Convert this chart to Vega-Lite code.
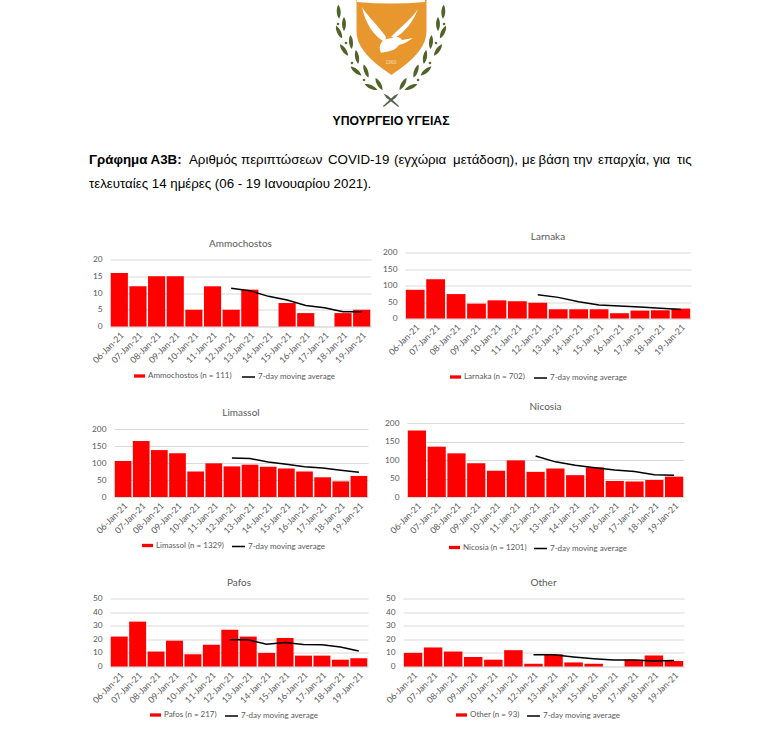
{"$schema":"https://vega.github.io/schema/vega-lite/v6.json","background":"white","padding":0,"spacing":5,"bounds":"full","align":"none","resolve":{"scale":{"fill":"independent","stroke":"independent"},"legend":{"fill":"independent","stroke":"independent"}},"config":{"view":{"stroke":null},"font":"Lato","axisX":{"labelAngle":-45,"labelFont":"Lato","labelFontSize":8.8,"labelColor":"#595959","title":null,"ticks":false,"domainColor":"#d9d9d9","grid":false,"labelPadding":4,"labelOverlap":false},"axisY":{"labelFont":"Lato","labelFontSize":8.3,"labelColor":"#595959","title":null,"ticks":false,"domain":false,"grid":true,"gridColor":"#d9d9d9","labelPadding":8},"title":{"font":"Lato","fontSize":10,"fontWeight":"normal","color":"#595959","offset":6,"anchor":"middle"},"legend":{"labelFont":"Lato","labelFontSize":8,"labelColor":"#595959","title":null,"orient":"none","direction":"horizontal","labelOffset":2,"padding":0}},"datasets":{"d":[
{"p":"A","date":"06-Jan-21","c":16},{"p":"A","date":"07-Jan-21","c":12},{"p":"A","date":"08-Jan-21","c":15},{"p":"A","date":"09-Jan-21","c":15},{"p":"A","date":"10-Jan-21","c":5},{"p":"A","date":"11-Jan-21","c":12},{"p":"A","date":"12-Jan-21","c":5,"ma":11.4},{"p":"A","date":"13-Jan-21","c":11,"ma":10.7},{"p":"A","date":"14-Jan-21","c":0,"ma":9.0},{"p":"A","date":"15-Jan-21","c":7,"ma":7.9},{"p":"A","date":"16-Jan-21","c":4,"ma":6.3},{"p":"A","date":"17-Jan-21","c":0,"ma":5.6},{"p":"A","date":"18-Jan-21","c":4,"ma":4.4},{"p":"A","date":"19-Jan-21","c":5,"ma":4.4},
{"p":"L","date":"06-Jan-21","c":87},{"p":"L","date":"07-Jan-21","c":119},{"p":"L","date":"08-Jan-21","c":74},{"p":"L","date":"09-Jan-21","c":45},{"p":"L","date":"10-Jan-21","c":55},{"p":"L","date":"11-Jan-21","c":52},{"p":"L","date":"12-Jan-21","c":48,"ma":72},{"p":"L","date":"13-Jan-21","c":28,"ma":64},{"p":"L","date":"14-Jan-21","c":28,"ma":51},{"p":"L","date":"15-Jan-21","c":28,"ma":41},{"p":"L","date":"16-Jan-21","c":16,"ma":38},{"p":"L","date":"17-Jan-21","c":24,"ma":35},{"p":"L","date":"18-Jan-21","c":25,"ma":31},{"p":"L","date":"19-Jan-21","c":30,"ma":27},
{"p":"M","date":"06-Jan-21","c":106},{"p":"M","date":"07-Jan-21","c":165},{"p":"M","date":"08-Jan-21","c":138},{"p":"M","date":"09-Jan-21","c":129},{"p":"M","date":"10-Jan-21","c":75},{"p":"M","date":"11-Jan-21","c":99},{"p":"M","date":"12-Jan-21","c":90,"ma":115},{"p":"M","date":"13-Jan-21","c":95,"ma":113},{"p":"M","date":"14-Jan-21","c":89,"ma":103},{"p":"M","date":"15-Jan-21","c":84,"ma":96},{"p":"M","date":"16-Jan-21","c":75,"ma":89},{"p":"M","date":"17-Jan-21","c":58,"ma":85},{"p":"M","date":"18-Jan-21","c":46,"ma":79},{"p":"M","date":"19-Jan-21","c":62,"ma":73},
{"p":"N","date":"06-Jan-21","c":180},{"p":"N","date":"07-Jan-21","c":136},{"p":"N","date":"08-Jan-21","c":118},{"p":"N","date":"09-Jan-21","c":91},{"p":"N","date":"10-Jan-21","c":71},{"p":"N","date":"11-Jan-21","c":99},{"p":"N","date":"12-Jan-21","c":68,"ma":111},{"p":"N","date":"13-Jan-21","c":77,"ma":95},{"p":"N","date":"14-Jan-21","c":59,"ma":86},{"p":"N","date":"15-Jan-21","c":80,"ma":79},{"p":"N","date":"16-Jan-21","c":43,"ma":73},{"p":"N","date":"17-Jan-21","c":42,"ma":69},{"p":"N","date":"18-Jan-21","c":46,"ma":60},{"p":"N","date":"19-Jan-21","c":55,"ma":59},
{"p":"P","date":"06-Jan-21","c":22},{"p":"P","date":"07-Jan-21","c":33},{"p":"P","date":"08-Jan-21","c":11},{"p":"P","date":"09-Jan-21","c":19},{"p":"P","date":"10-Jan-21","c":9},{"p":"P","date":"11-Jan-21","c":16},{"p":"P","date":"12-Jan-21","c":27,"ma":19.6},{"p":"P","date":"13-Jan-21","c":22,"ma":19.6},{"p":"P","date":"14-Jan-21","c":10,"ma":16.3},{"p":"P","date":"15-Jan-21","c":21,"ma":17.7},{"p":"P","date":"16-Jan-21","c":8,"ma":16.1},{"p":"P","date":"17-Jan-21","c":8,"ma":16},{"p":"P","date":"18-Jan-21","c":5,"ma":14.4},{"p":"P","date":"19-Jan-21","c":6,"ma":11.4},
{"p":"O","date":"06-Jan-21","c":10},{"p":"O","date":"07-Jan-21","c":14},{"p":"O","date":"08-Jan-21","c":11},{"p":"O","date":"09-Jan-21","c":7},{"p":"O","date":"10-Jan-21","c":5},{"p":"O","date":"11-Jan-21","c":12},{"p":"O","date":"12-Jan-21","c":2,"ma":8.7},{"p":"O","date":"13-Jan-21","c":9,"ma":8.6},{"p":"O","date":"14-Jan-21","c":3,"ma":7},{"p":"O","date":"15-Jan-21","c":2,"ma":5.7},{"p":"O","date":"16-Jan-21","c":0,"ma":4.7},{"p":"O","date":"17-Jan-21","c":5,"ma":4.7},{"p":"O","date":"18-Jan-21","c":8,"ma":4.1},{"p":"O","date":"19-Jan-21","c":4,"ma":4.4}
],"words":[
{"k":"b","x":88,"y":160,"t":"Γράφημα Α3Β:"},
{"k":"n","x":188,"y":160,"t":"Αριθμός"},{"k":"n","x":240,"y":160,"t":"περιπτώσεων"},{"k":"n","x":327,"y":160,"t":"COVID-19"},{"k":"n","x":393,"y":160,"t":"(εγχώρια"},{"k":"n","x":452,"y":160,"t":"μετάδοση),"},{"k":"n","x":521,"y":160,"t":"με"},{"k":"n","x":537.5,"y":160,"t":"βάση"},{"k":"n","x":572,"y":160,"t":"την"},{"k":"n","x":597,"y":160,"t":"επαρχία,"},{"k":"n","x":652,"y":160,"t":"για"},{"k":"n","x":676,"y":160,"t":"τις"},
{"k":"n","x":88,"y":184,"t":"τελευταίες 14 ημέρες (06 - 19 Ιανουαρίου 2021)."}
],"leaves":[
{"x":337.7,"y":11.7,"a":-3},{"x":343,"y":24,"a":0},{"x":338,"y":32,"a":-25},{"x":350,"y":42,"a":-5},{"x":343,"y":50,"a":-35},{"x":356,"y":57,"a":-10},{"x":355,"y":71,"a":-50},{"x":365,"y":71,"a":-20},{"x":370,"y":87,"a":-65},{"x":378,"y":84,"a":-30},
{"x":442.3,"y":11.7,"a":3},{"x":437,"y":24,"a":0},{"x":442,"y":32,"a":25},{"x":430,"y":42,"a":5},{"x":437,"y":50,"a":35},{"x":424,"y":57,"a":10},{"x":425,"y":71,"a":50},{"x":415,"y":71,"a":20},{"x":410,"y":87,"a":65},{"x":402,"y":84,"a":30}
],"berries":[{"x":337,"y":24},{"x":345,"y":43},{"x":351,"y":63},{"x":363,"y":80},{"x":443,"y":24},{"x":435,"y":43},{"x":429,"y":63},{"x":417,"y":80}],"stems":[{"x":390,"y":100,"a":-50},{"x":390,"y":100,"a":50}],"shield":[{"x":390.5,"y":37}],"dove":[{"x":390,"y":32}],"sp":[{"v":0}]},
"vconcat":[
{"width":780,"height":200,"data":{"name":"words"},"layer":[
{"data":{"name":"shield"},"mark":{"type":"point","filled":true,"clip":true,"opacity":1,"size":4,"color":"#e8962e","shape":"M-35,-40H35V-6C35,14 14,28 0,38C-14,28 -35,14 -35,-6Z"},"encoding":{"x":{"field":"x","type":"quantitative","scale":{"domain":[2,782],"nice":false,"zero":false},"axis":null},"y":{"field":"y","type":"quantitative","scale":{"domain":[200,0],"nice":false,"zero":false},"axis":null}}},
{"data":{"name":"dove"},"mark":{"type":"point","filled":true,"clip":true,"opacity":1,"size":4,"color":"#ffffff","shape":"M-29,-25C-22,-14 -14,-8 -5,5L-6,10C-18,4 -26,-10 -29,-25ZM27,-23C22,-10 14,0 4,6L0,5C8,-4 20,-12 27,-23ZM-10,21C-14,12 -8,6 2,6C6,4 9,5 11,8L22,6L14,11L8,13C4,19 -2,19 -10,21ZM-34,-33H34V-30Q0,-27 -34,-30Z"},"encoding":{"x":{"field":"x","type":"quantitative","axis":null},"y":{"field":"y","type":"quantitative","axis":null}}},
{"data":{"name":"leaves"},"mark":{"type":"point","filled":true,"opacity":1,"size":4,"color":"#4f6228","shape":"M0,-7C2.6,-3.5,2.6,3.5,0,7C-2.6,3.5,-2.6,-3.5,0,-7Z"},"encoding":{"x":{"field":"x","type":"quantitative","axis":null},"y":{"field":"y","type":"quantitative","axis":null},"angle":{"field":"a","type":"quantitative","scale":null}}},
{"data":{"name":"berries"},"mark":{"type":"point","filled":true,"opacity":1,"size":7,"shape":"circle","color":"#5d7034"},"encoding":{"x":{"field":"x","type":"quantitative","axis":null},"y":{"field":"y","type":"quantitative","axis":null}}},
{"data":{"name":"stems"},"mark":{"type":"point","filled":true,"opacity":1,"size":4,"color":"#55604a","shape":"M0,-10L1.2,-5L0.6,10L-0.6,10L-1.2,-5Z"},"encoding":{"x":{"field":"x","type":"quantitative","axis":null},"y":{"field":"y","type":"quantitative","axis":null},"angle":{"field":"a","type":"quantitative","scale":null}}},
{"data":{"values":[{"x":390,"y":62,"t":"1960"}]},"mark":{"type":"text","font":"Liberation Sans","fontSize":5,"color":"#f7dcb4","baseline":"middle","align":"center"},"encoding":{"x":{"field":"x","type":"quantitative","axis":null},"y":{"field":"y","type":"quantitative","axis":null},"text":{"field":"t"}}},
{"data":{"values":[{"x":390,"y":121,"t":"ΥΠΟΥΡΓΕΙΟ ΥΓΕΙΑΣ"}]},"mark":{"type":"text","font":"Liberation Sans","fontWeight":"bold","fontSize":12.2,"color":"#000000","baseline":"middle","align":"center"},"encoding":{"x":{"field":"x","type":"quantitative","axis":null},"y":{"field":"y","type":"quantitative","axis":null},"text":{"field":"t"}}},
{"transform":[{"filter":"datum.k==='b'"}],"mark":{"type":"text","font":"Liberation Sans","fontWeight":"bold","fontSize":13.3,"color":"#000000","baseline":"middle","align":"left"},"encoding":{"x":{"field":"x","type":"quantitative","axis":null},"y":{"field":"y","type":"quantitative","axis":null},"text":{"field":"t"}}},
{"transform":[{"filter":"datum.k==='n'"}],"mark":{"type":"text","font":"Liberation Sans","fontSize":13.3,"color":"#000000","baseline":"middle","align":"left"},"encoding":{"x":{"field":"x","type":"quantitative","axis":null},"y":{"field":"y","type":"quantitative","axis":null},"text":{"field":"t"}}}
]},
{"spacing":0,"bounds":"full","align":"none","resolve":{"scale":{"fill":"independent","stroke":"independent"},"legend":{"fill":"independent","stroke":"independent"}},"hconcat":[
{"spacing":26.5,"bounds":"full","align":"none","resolve":{"scale":{"fill":"independent","stroke":"independent"},"legend":{"fill":"independent","stroke":"independent"}},"vconcat":[
{"width":1,"height":1,"data":{"name":"sp"},"mark":{"type":"point","opacity":0},"encoding":{}},
{"spacing":0,"bounds":"full","align":"none","resolve":{"scale":{"fill":"independent","stroke":"independent"},"legend":{"fill":"independent","stroke":"independent"}},"hconcat":[{"width":1,"height":1,"data":{"name":"sp"},"mark":{"type":"point","opacity":0},"encoding":{}},
{"width":261,"height":67,"title":"Ammochostos","data":{"name":"d"},"transform":[{"filter":"datum.p==='A'"}],"encoding":{"x":{"field":"date","type":"nominal","sort":null,"scale":{"paddingInner":0.08,"paddingOuter":0.04}}},"layer":[
{"mark":{"type":"bar"},"encoding":{"y":{"field":"c","type":"quantitative","scale":{"domain":[0,20],"nice":false},"axis":{"values":[0,5,10,15,20],"minExtent":103,"maxExtent":103}},"fill":{"datum":"Ammochostos (n = 111)","scale":{"range":["#ff0000"]},"legend":{"legendX":23,"legendY":110,"symbolType":"M-1,-0.3H1V0.3H-1Z","symbolSize":121}}}},
{"transform":[{"filter":"isValid(datum.ma)"}],"mark":{"type":"line","strokeWidth":1.5},"encoding":{"y":{"field":"ma","type":"quantitative","scale":{"domain":[0,20],"nice":false},"axis":{"values":[0,5,10,15,20],"minExtent":103,"maxExtent":103}},"stroke":{"datum":"7-day moving average","scale":{"range":["#000000"]},"legend":{"legendX":131,"legendY":110,"symbolType":"stroke","symbolSize":169,"symbolStrokeWidth":1.5}}}}
]}]},
{"spacing":0,"bounds":"full","align":"none","resolve":{"scale":{"fill":"independent","stroke":"independent"},"legend":{"fill":"independent","stroke":"independent"}},"hconcat":[{"width":1,"height":1,"data":{"name":"sp"},"mark":{"type":"point","opacity":0},"encoding":{}},
{"width":254,"height":68,"title":"Limassol","data":{"name":"d"},"transform":[{"filter":"datum.p==='M'"}],"encoding":{"x":{"field":"date","type":"nominal","sort":null,"scale":{"paddingInner":0.08,"paddingOuter":0.04}}},"layer":[
{"mark":{"type":"bar"},"encoding":{"y":{"field":"c","type":"quantitative","scale":{"domain":[0,200],"nice":false},"axis":{"values":[0,50,100,150,200],"minExtent":107,"maxExtent":107}},"fill":{"datum":"Limassol (n = 1329)","scale":{"range":["#ff0000"]},"legend":{"legendX":27,"legendY":110,"symbolType":"M-1,-0.3H1V0.3H-1Z","symbolSize":121}}}},
{"transform":[{"filter":"isValid(datum.ma)"}],"mark":{"type":"line","strokeWidth":1.5},"encoding":{"y":{"field":"ma","type":"quantitative","scale":{"domain":[0,200],"nice":false},"axis":{"values":[0,50,100,150,200],"minExtent":107,"maxExtent":107}},"stroke":{"datum":"7-day moving average","scale":{"range":["#000000"]},"legend":{"legendX":117,"legendY":110,"symbolType":"stroke","symbolSize":169,"symbolStrokeWidth":1.5}}}}
]}]},
{"spacing":0,"bounds":"full","align":"none","resolve":{"scale":{"fill":"independent","stroke":"independent"},"legend":{"fill":"independent","stroke":"independent"}},"hconcat":[{"width":1,"height":1,"data":{"name":"sp"},"mark":{"type":"point","opacity":0},"encoding":{}},
{"width":258,"height":68,"title":"Pafos","data":{"name":"d"},"transform":[{"filter":"datum.p==='P'"}],"encoding":{"x":{"field":"date","type":"nominal","sort":null,"scale":{"paddingInner":0.08,"paddingOuter":0.04}}},"layer":[
{"mark":{"type":"bar"},"encoding":{"y":{"field":"c","type":"quantitative","scale":{"domain":[0,50],"nice":false},"axis":{"values":[0,10,20,30,40,50],"minExtent":103,"maxExtent":103}},"fill":{"datum":"Pafos (n = 217)","scale":{"range":["#ff0000"]},"legend":{"legendX":39,"legendY":110,"symbolType":"M-1,-0.3H1V0.3H-1Z","symbolSize":121}}}},
{"transform":[{"filter":"isValid(datum.ma)"}],"mark":{"type":"line","strokeWidth":1.5},"encoding":{"y":{"field":"ma","type":"quantitative","scale":{"domain":[0,50],"nice":false},"axis":{"values":[0,10,20,30,40,50],"minExtent":103,"maxExtent":103}},"stroke":{"datum":"7-day moving average","scale":{"range":["#000000"]},"legend":{"legendX":114,"legendY":110,"symbolType":"stroke","symbolSize":169,"symbolStrokeWidth":1.5}}}}
]}]}
]},
{"spacing":19.5,"bounds":"full","align":"none","resolve":{"scale":{"fill":"independent","stroke":"independent"},"legend":{"fill":"independent","stroke":"independent"}},"vconcat":[
{"width":1,"height":2,"data":{"name":"sp"},"mark":{"type":"point","opacity":0},"encoding":{}},
{"spacing":0,"bounds":"full","align":"none","resolve":{"scale":{"fill":"independent","stroke":"independent"},"legend":{"fill":"independent","stroke":"independent"}},"hconcat":[{"width":1,"height":1,"data":{"name":"sp"},"mark":{"type":"point","opacity":0},"encoding":{}},
{"width":286,"height":66,"title":"Larnaka","data":{"name":"d"},"transform":[{"filter":"datum.p==='L'"}],"encoding":{"x":{"field":"date","type":"nominal","sort":null,"scale":{"paddingInner":0.08,"paddingOuter":0.04}}},"layer":[
{"mark":{"type":"bar"},"encoding":{"y":{"field":"c","type":"quantitative","scale":{"domain":[0,200],"nice":false},"axis":{"values":[0,50,100,150,200],"minExtent":27,"maxExtent":27}},"fill":{"datum":"Larnaka (n = 702)","scale":{"range":["#ff0000"]},"legend":{"legendX":44,"legendY":118,"symbolType":"M-1,-0.3H1V0.3H-1Z","symbolSize":121}}}},
{"transform":[{"filter":"isValid(datum.ma)"}],"mark":{"type":"line","strokeWidth":1.5},"encoding":{"y":{"field":"ma","type":"quantitative","scale":{"domain":[0,200],"nice":false},"axis":{"values":[0,50,100,150,200],"minExtent":27,"maxExtent":27}},"stroke":{"datum":"7-day moving average","scale":{"range":["#000000"]},"legend":{"legendX":128,"legendY":118,"symbolType":"stroke","symbolSize":169,"symbolStrokeWidth":1.5}}}}
]}]},
{"spacing":0,"bounds":"full","align":"none","resolve":{"scale":{"fill":"independent","stroke":"independent"},"legend":{"fill":"independent","stroke":"independent"}},"hconcat":[{"width":1,"height":1,"data":{"name":"sp"},"mark":{"type":"point","opacity":0},"encoding":{}},
{"width":277,"height":74,"title":"Nicosia","data":{"name":"d"},"transform":[{"filter":"datum.p==='N'"}],"encoding":{"x":{"field":"date","type":"nominal","sort":null,"scale":{"paddingInner":0.08,"paddingOuter":0.04}}},"layer":[
{"mark":{"type":"bar"},"encoding":{"y":{"field":"c","type":"quantitative","scale":{"domain":[0,200],"nice":false},"axis":{"values":[0,50,100,150,200],"minExtent":29,"maxExtent":29}},"fill":{"datum":"Nicosia (n = 1201)","scale":{"range":["#ff0000"]},"legend":{"legendX":36,"legendY":113,"padding":5,"symbolType":"M-1,-0.3H1V0.3H-1Z","symbolSize":121}}}},
{"transform":[{"filter":"isValid(datum.ma)"}],"mark":{"type":"line","strokeWidth":1.5},"encoding":{"y":{"field":"ma","type":"quantitative","scale":{"domain":[0,200],"nice":false},"axis":{"values":[0,50,100,150,200],"minExtent":29,"maxExtent":29}},"stroke":{"datum":"7-day moving average","scale":{"range":["#000000"]},"legend":{"legendX":121,"legendY":113,"padding":5,"symbolType":"stroke","symbolSize":169,"symbolStrokeWidth":1.5}}}}
]}]},
{"spacing":0,"bounds":"full","align":"none","resolve":{"scale":{"fill":"independent","stroke":"independent"},"legend":{"fill":"independent","stroke":"independent"}},"hconcat":[{"width":1,"height":1,"data":{"name":"sp"},"mark":{"type":"point","opacity":0},"encoding":{}},
{"width":281,"height":68,"title":"Other","data":{"name":"d"},"transform":[{"filter":"datum.p==='O'"}],"encoding":{"x":{"field":"date","type":"nominal","sort":null,"scale":{"paddingInner":0.08,"paddingOuter":0.04}}},"layer":[
{"mark":{"type":"bar"},"encoding":{"y":{"field":"c","type":"quantitative","scale":{"domain":[0,50],"nice":false},"axis":{"values":[0,10,20,30,40,50],"minExtent":25,"maxExtent":25}},"fill":{"datum":"Other (n = 93)","scale":{"range":["#ff0000"]},"legend":{"legendX":52,"legendY":110,"symbolType":"M-1,-0.3H1V0.3H-1Z","symbolSize":121}}}},
{"transform":[{"filter":"isValid(datum.ma)"}],"mark":{"type":"line","strokeWidth":1.5},"encoding":{"y":{"field":"ma","type":"quantitative","scale":{"domain":[0,50],"nice":false},"axis":{"values":[0,10,20,30,40,50],"minExtent":25,"maxExtent":25}},"stroke":{"datum":"7-day moving average","scale":{"range":["#000000"]},"legend":{"legendX":123,"legendY":110,"symbolType":"stroke","symbolSize":169,"symbolStrokeWidth":1.5}}}}
]}]}
]}
]}
]}
